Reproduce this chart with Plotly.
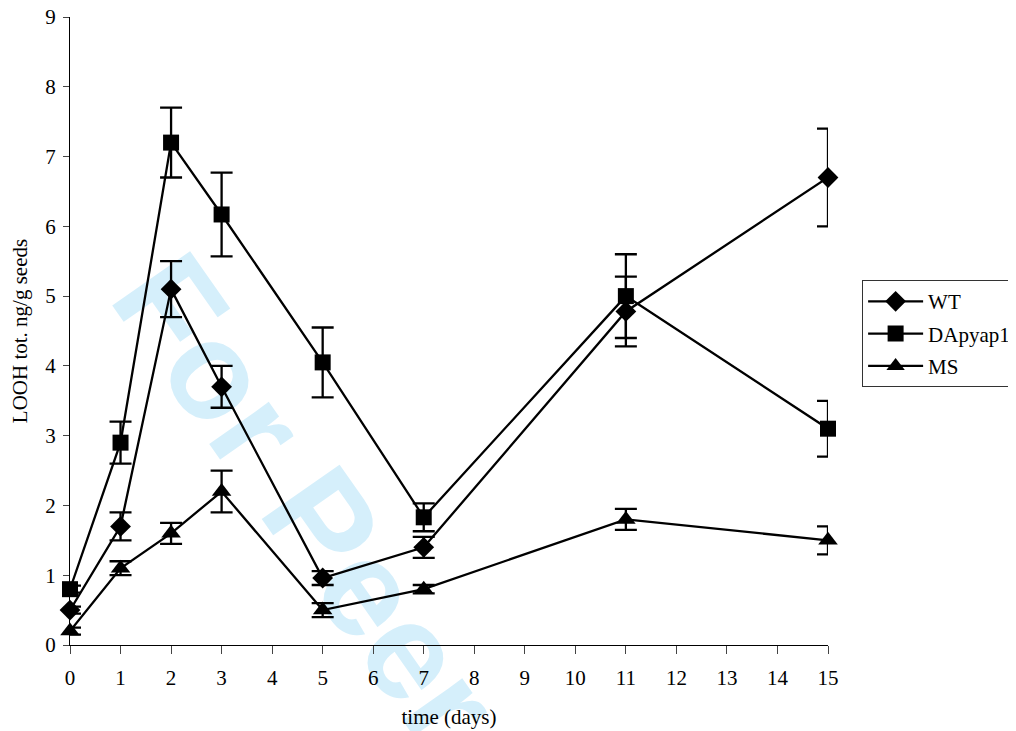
import plotly.graph_objects as go

days = [0, 1, 2, 3, 5, 7, 11, 15]
wt = [0.5, 1.7, 5.1, 3.7, 0.96, 1.4, 4.78, 6.7]
wt_err = [0.05, 0.2, 0.4, 0.3, 0.1, 0.15, 0.5, 0.7]
dap = [0.8, 2.9, 7.2, 6.17, 4.05, 1.83, 5.0, 3.1]
dap_err = [0.05, 0.3, 0.5, 0.6, 0.5, 0.2, 0.6, 0.4]
ms = [0.2, 1.1, 1.6, 2.2, 0.5, 0.8, 1.8, 1.5]
ms_err = [0.05, 0.1, 0.15, 0.3, 0.1, 0.06, 0.15, 0.2]
x_ticks = list(range(0, 16))
y_ticks = list(range(0, 10))

FONT = "Liberation Serif"

fig = go.Figure()
series = [
    ("WT", wt, wt_err, "diamond", 16),
    ("DApyap1", dap, dap_err, "square", 16),
    ("MS", ms, ms_err, "triangle-up", 17),
]
for name, vals, errs, sym, sz in series:
    fig.add_trace(go.Scatter(
        x=days, y=vals, name=name, legendgroup=name,
        mode="lines+markers",
        line=dict(color="black", width=2.3),
        marker=dict(symbol=sym, size=sz, color="black"),
        error_y=dict(type="data", array=errs, visible=True,
                     color="black", thickness=2.3, width=11),
        cliponaxis=False,
    ))

# watermark
fig.add_shape(
    type="rect", xref="paper", yref="paper",
    x0=0.511, x1=0.531, y0=-0.102, y1=-0.082,
    line=dict(width=0), fillcolor="rgba(0,0,0,0)", layer="below",
    label=dict(text="<b>For Peer Review</b>", textangle=55,
               textposition="middle center",
               font=dict(family="Liberation Sans", size=138, color="#d5effb")),
)

fig.update_layout(
    width=1008, height=723,
    margin=dict(l=62, r=188, t=9, b=86, autoexpand=False),
    paper_bgcolor="white", plot_bgcolor="rgba(0,0,0,0)",
    font=dict(family=FONT, size=21, color="black"),
    legend=dict(x=1.045, y=0.581, xanchor="left", yanchor="top",
                bordercolor="#333", borderwidth=1, bgcolor="white",
                font=dict(family=FONT, size=21), itemwidth=55,
                tracegroupgap=2),
    xaxis=dict(range=[0, 15], tickvals=x_ticks, ticks="outside", ticklen=8,
               tickcolor="#444", showline=True, linecolor="black", linewidth=1,
               showgrid=False, zeroline=False, ticklabelstandoff=6,
               title=dict(text="time (days)", font=dict(size=21), standoff=20)),
    yaxis=dict(range=[0, 9], tickvals=y_ticks, ticks="outside", ticklen=6,
               tickcolor="#444", showline=True, linecolor="black", linewidth=1,
               showgrid=False, zeroline=False, ticklabelstandoff=3,
               ticklabeloverflow="allow",
               title=dict(text="LOOH tot. ng/g seeds", font=dict(size=21), standoff=14)),
    showlegend=True,
)

fig.write_html("out.html")
